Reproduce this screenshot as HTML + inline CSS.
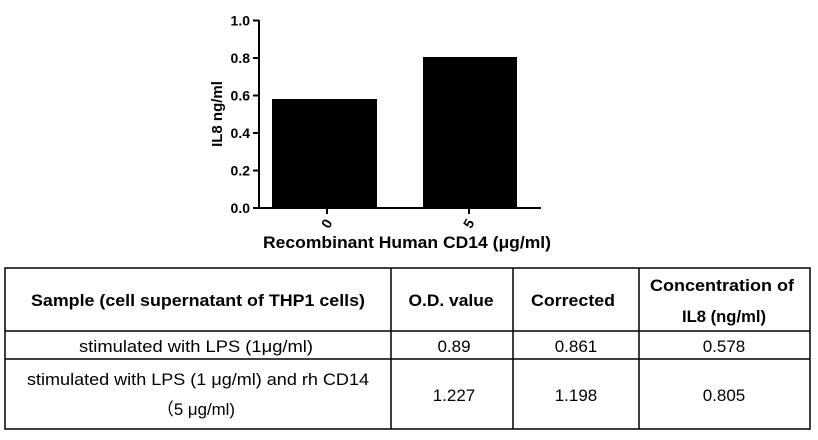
<!DOCTYPE html>
<html><head><meta charset="utf-8"><style>
html,body{margin:0;padding:0;background:#fff;}
svg{display:block;}
text{font-family:"Liberation Sans","Noto Sans CJK SC",sans-serif;fill:#000;}
</style></head><body>
<svg width="818" height="440" viewBox="0 0 818 440" xmlns="http://www.w3.org/2000/svg">
<rect x="272" y="99" width="105" height="109" fill="#000"/>
<rect x="423" y="57" width="94" height="151" fill="#000"/>
<g stroke="#000" stroke-width="2" fill="none">
<line x1="259" y1="20" x2="259" y2="209"/>
<line x1="258" y1="208" x2="541" y2="208"/>
<line x1="253" y1="20.5" x2="259" y2="20.5"/>
<line x1="253" y1="58" x2="259" y2="58"/>
<line x1="253" y1="95.5" x2="259" y2="95.5"/>
<line x1="253" y1="133" x2="259" y2="133"/>
<line x1="253" y1="170.5" x2="259" y2="170.5"/>
<line x1="253" y1="208" x2="259" y2="208"/>
<line x1="327" y1="208" x2="327" y2="214"/>
<line x1="469" y1="208" x2="469" y2="214"/>
</g>
<g font-size="14" font-weight="bold" text-anchor="end">
<text x="250" y="25.5">1.0</text>
<text x="250" y="63">0.8</text>
<text x="250" y="100.5">0.6</text>
<text x="250" y="138">0.4</text>
<text x="250" y="175.5">0.2</text>
<text x="250" y="213">0.0</text>
</g>
<text font-size="14" font-weight="bold" transform="translate(331,226) rotate(-60)" text-anchor="middle">0</text>
<text font-size="14" font-weight="bold" transform="translate(473,226) rotate(-60)" text-anchor="middle">5</text>
<text font-size="15" font-weight="bold" transform="translate(222,114) rotate(-90)" text-anchor="middle">IL8 ng/ml</text>
<text x="407" y="248" font-size="17" font-weight="bold" text-anchor="middle" textLength="288" lengthAdjust="spacingAndGlyphs">Recombinant Human CD14 (μg/ml)</text>
<g stroke="#000" stroke-width="1.5" fill="none">
<rect x="5" y="268" width="805" height="161"/>
<line x1="5" y1="331" x2="810" y2="331"/>
<line x1="5" y1="359" x2="810" y2="359"/>
<line x1="391" y1="268" x2="391" y2="429"/>
<line x1="513" y1="268" x2="513" y2="429"/>
<line x1="639" y1="268" x2="639" y2="429"/>
</g>
<g font-size="17" font-weight="bold" text-anchor="middle">
<text x="198" y="306" textLength="334" lengthAdjust="spacingAndGlyphs">Sample (cell supernatant of THP1 cells)</text>
<text x="451" y="306" textLength="85" lengthAdjust="spacingAndGlyphs">O.D. value</text>
<text x="573" y="306" textLength="84" lengthAdjust="spacingAndGlyphs">Corrected</text>
<text x="722" y="291" textLength="144" lengthAdjust="spacingAndGlyphs">Concentration of</text>
<text x="724" y="322" textLength="84" lengthAdjust="spacingAndGlyphs">IL8 (ng/ml)</text>
</g>
<g font-size="17" text-anchor="middle">
<text x="196" y="352" textLength="234" lengthAdjust="spacingAndGlyphs">stimulated with LPS (1μg/ml)</text>
<text x="454" y="352">0.89</text>
<text x="576" y="352">0.861</text>
<text x="724" y="352">0.578</text>
<text x="198" y="385" textLength="342" lengthAdjust="spacingAndGlyphs">stimulated with LPS (1 μg/ml) and rh CD14</text>
<text x="196" y="415" textLength="78" lengthAdjust="spacingAndGlyphs">（5 μg/ml)</text>
<text x="454" y="401">1.227</text>
<text x="576" y="401">1.198</text>
<text x="724" y="401">0.805</text>
</g>
</svg>
</body></html>
